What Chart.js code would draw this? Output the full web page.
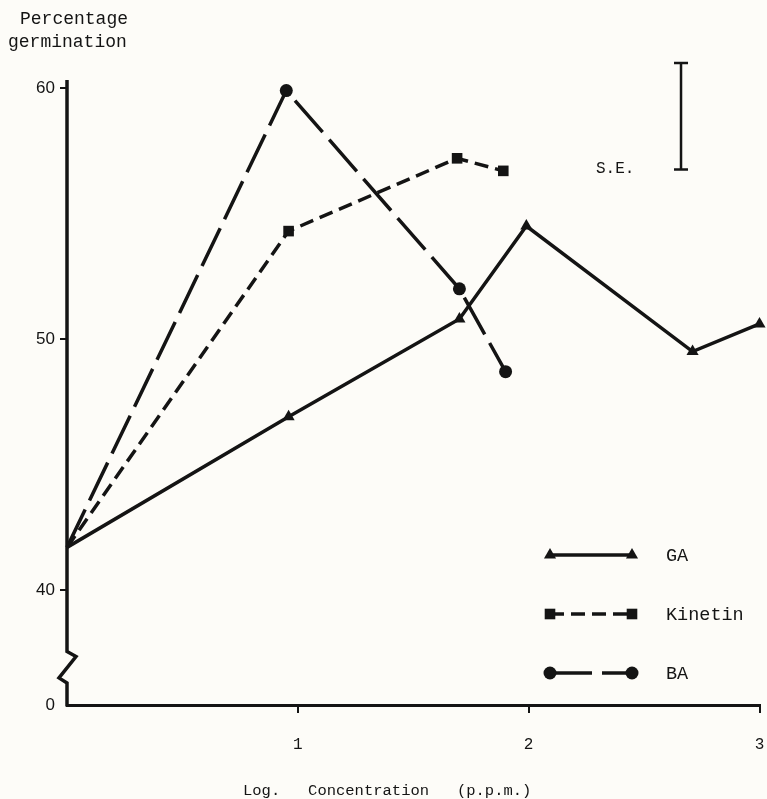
<!DOCTYPE html>
<html>
<head>
<meta charset="utf-8">
<title>Percentage germination against log concentration</title>
<style>
  html, body { margin: 0; padding: 0; background: #fdfcf8; }
  #wrap { width: 767px; height: 799px; position: relative; }
</style>
<script src="https://cdn.jsdelivr.net/npm/chart.js@4/dist/chart.umd.min.js"></script>
</head>
<body>
<div id="wrap"><canvas id="chart" width="767" height="799"></canvas></div>
<script>
// Log concentration (p.p.m.) and percentage germination for each growth substance
const gaLogConc = [0, 0.96, 1.70, 1.99, 2.71, 3.0];
const gaGermination = [41.7, 46.9, 50.8, 54.5, 49.5, 50.6];

const kinetinLogConc = [0, 0.96, 1.69, 1.89];
const kinetinGermination = [41.7, 54.3, 57.2, 56.7];

const baLogConc = [0, 0.95, 1.70, 1.90];
const baGermination = [41.7, 59.9, 52.0, 48.7];

const seriesNames = ['GA', 'Kinetin', 'BA'];

// Axis ticks; the value axis is broken below 40 and its foot is labelled 0
const xTickValues = [1, 2, 3];
const yTickValues = [40, 50, 60];
const yFootValue = 35.42;
const yFootLabel = '0';
const yBreakValues = [37.55, 37.35, 36.5, 36.3];

// Standard error bar (length in percentage units)
const seTopValue = 61.0;
const seValue = 4.25;
const seLogConc = 2.66;

const INK = '#141414';
const PAPER = '#fdfcf8';
const MONO = '"Liberation Mono", "DejaVu Sans Mono", monospace';
const SANS = '"Liberation Sans", "DejaVu Sans", sans-serif';

function points(xs, ys) {
  return xs.map((x, i) => ({ x: x, y: ys[i] }));
}

// no marker where the curves leave the common origin on the axis
const markerRadius = r => ctx => (ctx.dataIndex === 0 ? 0 : r);

function series(label, xs, ys, style, radius, dash) {
  return {
    label: label,
    data: points(xs, ys),
    borderColor: INK,
    backgroundColor: INK,
    pointBackgroundColor: INK,
    pointBorderColor: INK,
    pointBorderWidth: 0,
    borderWidth: 3.5,
    borderDash: dash,
    pointStyle: style,
    pointRadius: markerRadius(radius),
    pointHoverRadius: markerRadius(radius),
    legendRadius: radius,
    tension: 0,
    clip: false,
    fill: false
  };
}

const paperPlugin = {
  id: 'paper',
  beforeDraw(chart) {
    const ctx = chart.ctx;
    ctx.save();
    ctx.fillStyle = PAPER;
    ctx.fillRect(0, 0, chart.width, chart.height);
    ctx.restore();
  }
};

function drawMarker(ctx, style, radius, x, y) {
  if (Chart.helpers && Chart.helpers.drawPoint) {
    Chart.helpers.drawPoint(ctx, { pointStyle: style, radius: radius, rotation: 0, borderWidth: 0 }, x, y);
    return;
  }
  ctx.beginPath();
  if (style === 'circle') {
    ctx.arc(x, y, radius, 0, Math.PI * 2);
  } else if (style === 'rect') {
    const s = radius * Math.SQRT1_2;
    ctx.rect(x - s, y - s, 2 * s, 2 * s);
  } else {
    ctx.moveTo(x, y - radius);
    ctx.lineTo(x + radius * 0.866, y + radius * 0.5);
    ctx.lineTo(x - radius * 0.866, y + radius * 0.5);
    ctx.closePath();
  }
  ctx.fill();
}

const decorPlugin = {
  id: 'decor',
  afterDraw(chart) {
    const ctx = chart.ctx;
    const xs = chart.scales.x;
    const ys = chart.scales.y;
    const area = chart.chartArea;
    ctx.save();
    ctx.strokeStyle = INK;
    ctx.fillStyle = INK;

    // value axis with a zig-zag break below 40
    const ax = area.left;
    const b = yBreakValues.map(v => ys.getPixelForValue(v));
    ctx.lineWidth = 3.5;
    ctx.lineJoin = 'miter';
    ctx.beginPath();
    ctx.moveTo(ax, area.top);
    ctx.lineTo(ax, b[0]);
    ctx.lineTo(ax + 9, b[1]);
    ctx.lineTo(ax - 8, b[2]);
    ctx.lineTo(ax, b[3]);
    ctx.lineTo(ax, area.bottom + 1.5);
    ctx.stroke();

    // axis titles
    ctx.textAlign = 'left';
    ctx.textBaseline = 'alphabetic';
    ctx.font = '18px ' + MONO;
    ctx.fillText('Percentage', 20, 24);
    ctx.fillText('germination', 8, 47);
    ctx.font = '15.5px ' + MONO;
    ctx.fillText('Log.   Concentration   (p.p.m.)', 243, 795);

    // standard error bar
    const sx = xs.getPixelForValue(seLogConc);
    const sTop = ys.getPixelForValue(seTopValue);
    const sBot = ys.getPixelForValue(seTopValue - seValue);
    ctx.lineWidth = 2.5;
    ctx.beginPath();
    ctx.moveTo(sx, sTop); ctx.lineTo(sx, sBot);
    ctx.moveTo(sx - 7, sTop); ctx.lineTo(sx + 7, sTop);
    ctx.moveTo(sx - 7, sBot); ctx.lineTo(sx + 7, sBot);
    ctx.stroke();
    ctx.font = '16px ' + MONO;
    ctx.textAlign = 'left';
    ctx.fillText('S.E.', 596, sBot + 3);

    // key: marker, line in the series' dash, marker, then the name
    const keyLeft = 550, keyRight = 632, keyTop = 555, keyGap = 59, keyText = 666;
    chart.data.datasets.forEach((ds, i) => {
      const y = keyTop + i * keyGap;
      ctx.save();
      ctx.lineWidth = ds.borderWidth;
      ctx.setLineDash(ds.borderDash || []);
      ctx.beginPath();
      ctx.moveTo(keyLeft, y);
      ctx.lineTo(keyRight, y);
      ctx.stroke();
      ctx.restore();
      drawMarker(ctx, ds.pointStyle, ds.legendRadius, keyLeft, y);
      drawMarker(ctx, ds.pointStyle, ds.legendRadius, keyRight, y);
      ctx.font = '18.5px ' + MONO;
      ctx.textBaseline = 'middle';
      ctx.fillText(ds.label, keyText, y + 1);
      ctx.textBaseline = 'alphabetic';
    });
    ctx.restore();
  }
};

new Chart(document.getElementById('chart'), {
  type: 'line',
  data: {
    datasets: [
      series(seriesNames[0], gaLogConc, gaGermination, 'triangle', 7, []),
      series(seriesNames[1], kinetinLogConc, kinetinGermination, 'rect', 7.5, [14, 7]),
      series(seriesNames[2], baLogConc, baGermination, 'circle', 6.5, [42, 10])
    ]
  },
  options: {
    responsive: false,
    animation: false,
    devicePixelRatio: 1,
    layout: { padding: { top: 80, right: 5, bottom: 0, left: 0 } },
    plugins: {
      legend: { display: false },
      tooltip: { enabled: false },
      title: { display: false }
    },
    scales: {
      x: {
        type: 'linear',
        min: 0,
        max: 3,
        afterBuildTicks: s => { s.ticks = xTickValues.map(v => ({ value: v })); },
        // the end label may run into the page margin instead of shrinking the plot
        afterFit: s => { s.height = 94; s.paddingRight = 0; s.paddingLeft = 0; },
        grid: {
          display: true,
          drawOnChartArea: false,
          drawTicks: true,
          tickLength: 8,
          color: INK,
          lineWidth: 2
        },
        border: { display: true, color: INK, width: 3 },
        ticks: {
          color: INK,
          font: { family: MONO, size: 16 },
          padding: 22,
          maxRotation: 0,
          autoSkip: false,
          callback: v => String(v)
        }
      },
      y: {
        type: 'linear',
        min: yFootValue,
        max: 60.32,
        afterBuildTicks: s => { s.ticks = [yFootValue].concat(yTickValues).map(v => ({ value: v })); },
        afterFit: s => { s.width = 67; s.paddingTop = 0; s.paddingBottom = 0; },
        grid: {
          display: true,
          drawOnChartArea: false,
          drawTicks: true,
          tickLength: 7,
          lineWidth: 2,
          color: c => (c.tick && c.tick.value < yTickValues[0] ? 'rgba(0,0,0,0)' : INK)
        },
        border: { display: false },
        ticks: {
          color: INK,
          font: { family: SANS, size: 17 },
          padding: 5,
          autoSkip: false,
          callback: v => (v < yTickValues[0] ? yFootLabel : String(v))
        }
      }
    }
  },
  plugins: [paperPlugin, decorPlugin]
});
</script>
</body>
</html>
